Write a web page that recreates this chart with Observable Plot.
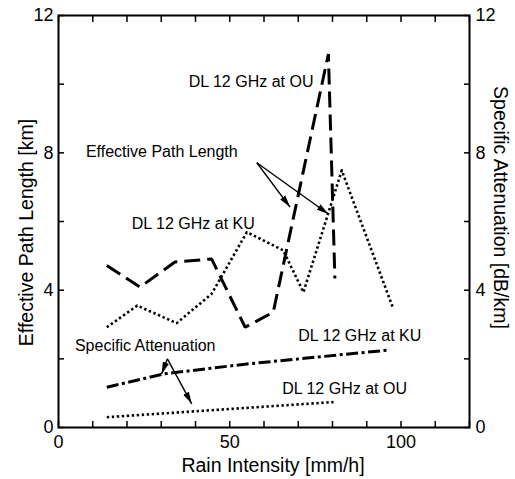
<!DOCTYPE html>
<html><head><meta charset="utf-8">
<script src="https://cdn.jsdelivr.net/npm/d3@7"></script>
<script src="https://cdn.jsdelivr.net/npm/@observablehq/plot@0.6"></script>
<style>body{margin:0;background:#fff} svg{display:block}</style>
</head><body><div id="chart"></div>
<script>
// Effective path length [km] vs rain intensity [mm/h]
const ouPathRain = [14.1, 23.8, 34.0, 44.7, 54.5, 62.7, 78.8, 80.7];
const ouPathLen  = [4.72, 4.09, 4.82, 4.91, 2.92, 3.36, 10.88, 4.34];
const kuPathRain = [14.1, 23.0, 34.5, 44.7, 55.0, 65.6, 71.5, 82.7, 97.6];
const kuPathLen  = [2.92, 3.55, 3.04, 3.89, 5.69, 5.16, 3.94, 7.49, 3.50];
// Specific attenuation [dB/km]
const kuAttRain = [14.1, 30.6, 55.0, 96.8];
const kuAtt     = [1.17, 1.56, 1.85, 2.26];
const ouAttRain = [14.1, 47.0, 80.3];
const ouAtt     = [0.30, 0.52, 0.74];
// ticks
const xTicks = [0, 10, 20, 30, 40, 50, 60, 70, 80, 90, 100, 110, 120];
const xTickLabels = [0, 50, 100];
const yTicks = [0, 2, 4, 6, 8, 10, 12];
const yTickLabels = [0, 4, 8, 12];
// annotations (data coordinates)
const noteText = ["DL 12 GHz at OU", "Effective Path Length", "DL 12 GHz at KU", "Specific Attenuation", "DL 12 GHz at KU", "DL 12 GHz at OU"];
const noteX = [38.0, 8.0, 21.4, 4.8, 70.0, 65.3];
const noteY = [9.93, 7.87, 5.79, 2.24, 2.53, 0.99];
const arrowX1 = [57.9, 57.9, 31.8, 31.8];
const arrowY1 = [7.71, 7.71, 2.00, 2.00];
const arrowX2 = [67.6, 78.8, 30.1, 38.9];
const arrowY2 = [6.42, 6.22, 1.56, 0.69];

const toPts = (xs, ys) => xs.map((x, i) => ({x, y: ys[i]}));
const notes = noteText.map((t, i) => ({t, x: noteX[i], y: noteY[i]}));
const arrows = arrowX1.map((x1, i) => ({x1, y1: arrowY1[i], x2: arrowX2[i], y2: arrowY2[i]}));

function headMarker(color, context) {
  const doc = context.document, ns = "http://www.w3.org/2000/svg";
  const m = doc.createElementNS(ns, "marker");
  m.setAttribute("viewBox", "-12 -4 12 8");
  m.setAttribute("markerWidth", 12); m.setAttribute("markerHeight", 8);
  m.setAttribute("markerUnits", "userSpaceOnUse");
  m.setAttribute("orient", "auto");
  m.setAttribute("refX", 0); m.setAttribute("refY", 0);
  const p = doc.createElementNS(ns, "path");
  p.setAttribute("d", "M-12,-3.2L0,0L-12,3.2Z");
  p.setAttribute("fill", color); p.setAttribute("stroke", "none");
  m.appendChild(p);
  return m;
}

const font = "'Liberation Sans', Arial, Helvetica, sans-serif";

function build(useMarker) {
  const arrowMark = useMarker
    ? Plot.link(arrows, {x1: "x1", y1: "y1", x2: "x2", y2: "y2", stroke: "black", strokeWidth: 1.4, markerEnd: headMarker})
    : Plot.arrow(arrows, {x1: "x1", y1: "y1", x2: "x2", y2: "y2", stroke: "black", strokeWidth: 1.4, headLength: 10, headAngle: 35});
  return Plot.plot({
    width: 515, height: 479,
    marginLeft: 58, marginRight: 46, marginTop: 15, marginBottom: 52,
    style: {fontFamily: font, background: "white", color: "black"},
    x: {domain: [0, 120]},
    y: {domain: [0, 12]},
    marks: [
      // inward ticks
      Plot.axisX({anchor: "bottom", ticks: xTicks, tickSize: -6, tickFormat: () => "", label: null, strokeWidth: 1.5}),
      Plot.axisX({anchor: "top", ticks: xTicks, tickSize: -6, tickFormat: () => "", label: null, strokeWidth: 1.5}),
      Plot.axisY({anchor: "left", ticks: yTicks, tickSize: -6, tickFormat: () => "", label: null, strokeWidth: 1.5}),
      Plot.axisY({anchor: "right", ticks: yTicks, tickSize: -6, tickFormat: () => "", label: null, strokeWidth: 1.5}),
      // tick labels
      Plot.axisX({anchor: "bottom", ticks: xTickLabels, tickSize: 0, tickPadding: 8, fontSize: 18, label: null}),
      Plot.axisY({anchor: "left", ticks: yTickLabels, tickSize: 0, tickPadding: 5, fontSize: 18, label: null}),
      Plot.axisY({anchor: "right", ticks: yTickLabels, tickSize: 0, tickPadding: 6, fontSize: 18, label: null}),
      Plot.frame({stroke: "black", strokeWidth: 2}),
      // axis titles
      Plot.text(["Rain Intensity [mm/h]"], {frameAnchor: "bottom", textAnchor: "middle", dx: 9, dy: 38, fontSize: 19.5, lineAnchor: "middle"}),
      Plot.text(["Effective Path Length [km]"], {frameAnchor: "left", textAnchor: "middle", dx: -32, dy: 11, rotate: -90, fontSize: 19.5, lineAnchor: "middle"}),
      Plot.text(["Specific Attenuation [dB/km]"], {frameAnchor: "right", textAnchor: "middle", dx: 31, dy: -14, rotate: 90, fontSize: 19.5, lineAnchor: "middle"}),
      // series
      Plot.line(toPts(ouPathRain, ouPathLen), {x: "x", y: "y", stroke: "black", strokeWidth: 3, strokeDasharray: "16,7", strokeLinecap: "butt", strokeLinejoin: "miter"}),
      Plot.line(toPts(kuPathRain, kuPathLen), {x: "x", y: "y", stroke: "black", strokeWidth: 2.6, strokeDasharray: "2.4,2.6", strokeLinecap: "butt"}),
      Plot.line(toPts(kuAttRain, kuAtt), {x: "x", y: "y", stroke: "black", strokeWidth: 3, strokeDasharray: "12,3.5,3,3.5", strokeLinecap: "butt"}),
      Plot.line(toPts(ouAttRain, ouAtt), {x: "x", y: "y", stroke: "black", strokeWidth: 2.6, strokeDasharray: "2.4,2.6", strokeLinecap: "butt"}),
      // annotations
      arrowMark,
      Plot.text(notes, {x: "x", y: "y", text: "t", textAnchor: "start", lineAnchor: "bottom", fontSize: 16, fill: "black"})
    ]
  });
}

let chart;
try { chart = build(true); } catch (e) { chart = build(false); }
document.getElementById("chart").appendChild(chart);
</script>
</body></html>
